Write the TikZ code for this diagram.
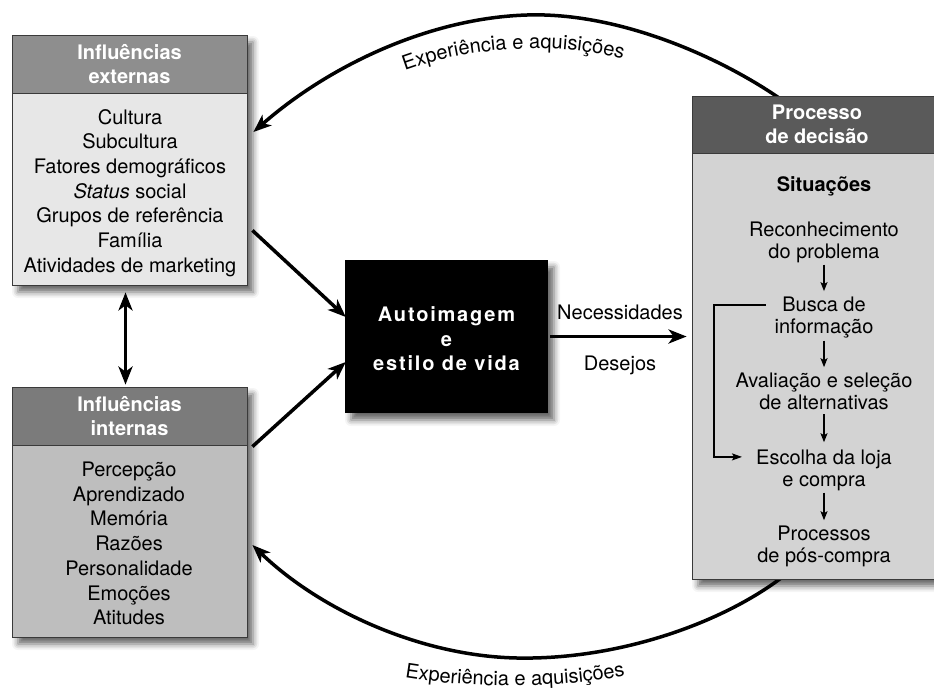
\documentclass[tikz,border=0pt]{standalone}
\usepackage{fontspec}
\setmainfont{TeX Gyre Heros}
\newfontfamily\spacedfont[LetterSpace=9]{TeX Gyre Heros}
\usetikzlibrary{arrows.meta,shadows.blur,decorations.text}
\definecolor{exthead}{HTML}{8E8E8E}
\definecolor{extbody}{HTML}{E7E7E7}
\definecolor{inthead}{HTML}{7B7B7B}
\definecolor{intbody}{HTML}{BEBEBE}
\definecolor{prochead}{HTML}{5A5A5A}
\definecolor{procbody}{HTML}{D3D3D3}
\definecolor{edge}{HTML}{3A3A3A}
\pgfdeclarelayer{bg}
\pgfsetlayers{bg,main}
\newcommand\arcfont{\fontsize{20}{24}\selectfont}
\begin{document}
\begin{tikzpicture}[x=1pt,y=-1pt,
  boxbody/.style={draw=edge, line width=0.8pt, inner sep=0pt,
    blur shadow={shadow xshift=6pt, shadow yshift=-7pt, shadow blur radius=6pt, shadow opacity=60}},
  boxhead/.style={draw=edge, line width=0.8pt, inner sep=0pt, text=white, align=center,
    font=\bfseries\fontsize{20}{23.5}\selectfont},
  listtext/.style={inner sep=0pt, align=center, font=\fontsize{20}{24.7}\selectfont},
  steptext/.style={inner sep=0pt, align=center, font=\fontsize{20}{22}\selectfont},
  bigarrow/.style={line width=3.5pt, -{Stealth[length=18pt,width=14pt,inset=5pt]}},
  smallarrow/.style={line width=1.5pt, -{Stealth[length=9pt,width=7pt,inset=2pt]}},
  arclabel/.style={decorate, decoration={text along path, text align=center,
    text={|\arcfont|Experiência e aquisições}}}
]
\useasboundingbox (0,0) rectangle (934,691);

% external influences
\node[boxbody, fill=extbody, minimum width=235pt, minimum height=250pt] (ext) at (129.5,160) {};
\node[boxhead, fill=exthead, minimum width=235pt, minimum height=58pt, anchor=north] (exth) at (ext.north) {Influências\\externas};
\node[listtext] (extt) at (130,193) {Cultura\\Subcultura\\Fatores demográficos\\\textit{Status} social\\Grupos de referência\\Família\\Atividades de marketing};

% internal influences
\node[boxbody, fill=intbody, minimum width=235pt, minimum height=250pt] (int) at (129.5,512) {};
\node[boxhead, fill=inthead, minimum width=235pt, minimum height=58pt, anchor=north] (inth) at (int.north) {Influências\\internas};
\node[listtext] (intt) at (129,543.5) {Percepção\\Aprendizado\\Memória\\Razões\\Personalidade\\Emoções\\Atitudes};

% self-image
\node[fill=black, inner sep=0pt, minimum width=203pt, minimum height=153pt,
  blur shadow={shadow xshift=6pt, shadow yshift=-7pt, shadow blur radius=6pt, shadow opacity=60}] (img) at (446.5,336.5) {};
\node[text=white, inner sep=0pt, align=center, font=\spacedfont\bfseries\fontsize{20}{24.5}\selectfont] (imgt) at (446.5,339) {Autoimagem\\e\\estilo de vida};

% decision process
\node[boxbody, fill=procbody, minimum width=250pt, minimum height=483pt] (proc) at (817,337.5) {};
\node[boxhead, fill=prochead, minimum width=250pt, minimum height=57pt, anchor=north, font=\bfseries\fontsize{20}{24}\selectfont] (proch) at (proc.north) {Processo\\de decisão};
\node[inner sep=0pt, font=\bfseries\fontsize{20}{24}\selectfont, anchor=base] (sit) at (824,191) {Situações};
\node[steptext] (s1) at (824,241.9) {Reconhecimento\\do problema};
\node[steptext] (s2) at (824,317.9) {Busca de\\informação};
\node[steptext] (s3) at (824,391.8) {Avaliação e seleção\\de alternativas};
\node[steptext] (s4) at (824,469.9) {Escolha da loja\\e compra};
\node[steptext] (s5) at (824,545.9) {Processos\\de pós-compra};
\draw[smallarrow, shorten <=2pt, shorten >=6pt] (s1) -- (s2);
\draw[smallarrow, shorten <=2pt, shorten >=6pt] (s2) -- (s3);
\draw[smallarrow, shorten <=4pt, shorten >=7pt] (s3) -- (s4);
\draw[smallarrow, shorten <=2pt, shorten >=5pt] (s4) -- (s5);
\draw[line width=1.5pt, -{Stealth[length=10pt,width=7pt,inset=2pt]}]
  ([xshift=-8.5pt,yshift=13pt]s2.west) -- ++(-52,0) |- ([xshift=-14pt,yshift=13pt]s4.west);

% labels on the needs arrow
\node[inner sep=0pt, font=\fontsize{20}{24}\selectfont] (nec) at (620,312) {Necessidades};
\node[inner sep=0pt, font=\fontsize{20}{24}\selectfont] (des) at (620,365) {Desejos};

% arrows
\draw[bigarrow] (img.east) -- (img.east -| proc.west) [shorten <=2pt, shorten >=5pt];
\draw[line width=3.5pt, {Stealth[length=18pt,width=14pt,inset=5pt]}-{Stealth[length=18pt,width=14pt,inset=5pt]}]
  ([xshift=-4pt,yshift=-7pt]ext.south) -- ([xshift=-4pt,yshift=2pt]int.north);
\draw[bigarrow] ([xshift=5pt,yshift=55pt]ext.south east) -- ([xshift=1pt,yshift=19.5pt]img.west);
\draw[bigarrow] ([xshift=5pt,yshift=-60pt]int.north east) -- ([xshift=1pt,yshift=-25.5pt]img.west);

% feedback arcs
\coordinate (ta) at (782,100);
\coordinate (tpk) at (527,15);
\coordinate (tb) at ([xshift=6pt,yshift=28pt]ext.east);
\coordinate (ba) at (785,575);
\coordinate (bpk) at (517,658);
\coordinate (bb) at ([xshift=5pt,yshift=-33pt]int.east);
\begin{pgfonlayer}{bg}
\draw[bigarrow] (ta) .. controls (722,58) and (620,12) .. (tpk)
  .. controls (430,18) and (330,65) .. (tb);
\draw[bigarrow] (ba) .. controls (725,622) and (620,660) .. (bpk)
  .. controls (420,656) and (320,610) .. (bb);
\end{pgfonlayer}
\path[arclabel] (391,76) .. controls (465,44) and (570,40) .. (637,64);
\path[arclabel] (396,676) .. controls (466,689) and (566,689) .. (634,674);
\end{tikzpicture}
\end{document}
